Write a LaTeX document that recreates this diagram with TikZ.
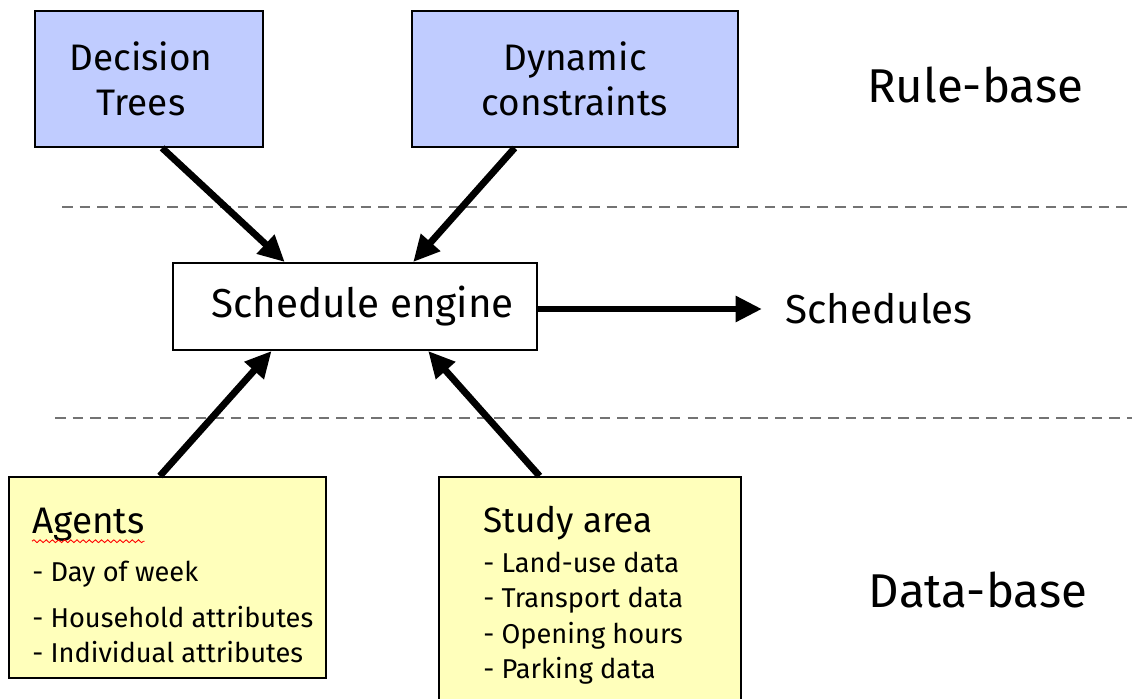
\documentclass[tikz,border=0pt]{standalone}
\usepackage{fontspec}
\setmainfont{Fira Sans}
\usepackage{tikz}
\usetikzlibrary{arrows.meta,positioning,calc,decorations.pathmorphing}
\definecolor{ruleBlue}{HTML}{C0CCFF}
\definecolor{dataYellow}{HTML}{FFFFBB}

\tikzset{
  rulebox/.style={draw,line width=1.1pt,fill=ruleBlue,inner sep=0pt,align=center,
    minimum height=2.72cm,font=\fontsize{21}{25.5}\selectfont},
  databox/.style={draw,line width=1.1pt,fill=dataYellow,inner sep=0pt},
  itemtxt/.style={anchor=base west,inner sep=0pt,font=\fontsize{15.5}{18}\selectfont},
  flow/.style={-{Triangle[length=15pt,width=14pt]},line width=3.9pt},
  layer/.style={black!55,line width=1.1pt,dash pattern=on 6pt off 4pt}
}

\begin{document}
\begin{tikzpicture}[x=0.02cm,y=-0.02cm]
\useasboundingbox (0,0) rectangle (1132,699);
% rule-base
\node[rulebox,minimum width=4.56cm] (dt) at (149,79) {Decision\hspace*{0.32cm}\\Trees\hspace*{0.32cm}};
\node[rulebox,minimum width=6.52cm] (dc) at (575,79) {Dynamic\\constraints};
\node[font=\fontsize{27}{30}\selectfont] (rb) at (975,85) {Rule-base};
\draw[layer] (62,207) -- (1132,207);
% engine
\node[draw,line width=1.1pt,fill=white,inner sep=0pt,minimum width=7.28cm,minimum height=1.74cm,
  font=\fontsize{23}{26}\selectfont] (se) at (355,306.5) {\hspace{0.3cm}Schedule engine};
\node[anchor=west,inner sep=0pt,font=\fontsize{23}{26}\selectfont] (sch) at (785,309) {Schedules};
\draw[flow] (se.east |- sch.west) -- ($(sch.west)+(-23,0)$);
\draw[layer] (55,418) -- (1132,418);
% data-base
\node[databox,minimum width=6.34cm,minimum height=4.02cm] (ag) at (167.5,577.5) {};
\node[databox,minimum width=6.04cm,minimum height=4.8cm] (sa) at (590,597) {};
\node[font=\fontsize{27}{30}\selectfont] (db) at (978,590) {Data-base};
\node[itemtxt,font=\fontsize{21}{24}\selectfont] (agt) at (32,533) {Agents};
\draw[red,line width=0.5pt,decorate,decoration={snake,amplitude=0.8pt,segment length=3.5pt}]
  (agt.south west) -- (agt.south east);
\node[itemtxt] (ag1) at (32,581) {- Day of week};
\node[itemtxt] (ag2) at (32,627) {- Household attributes};
\node[itemtxt] (ag3) at (32,662) {- Individual attributes};
\node[itemtxt,font=\fontsize{20}{24}\selectfont] (sat) at (483,532) {Study area};
\node[itemtxt] (sa1) at (483,572) {- Land-use data};
\node[itemtxt] (sa2) at (483,607) {- Transport data};
\node[itemtxt] (sa3) at (483,643) {- Opening hours};
\node[itemtxt] (sa4) at (483,678) {- Parking data};
% arrows into the engine
\draw[flow] ($(dt.south west)!0.557!(dt.south east)$) -- ($(se.north west)!0.308!(se.north east)$);
\draw[flow] ($(dc.south west)!0.316!(dc.south east)$) -- ($(se.north west)!0.659!(se.north east)$);
\draw[flow] ($(ag.north west)!0.476!(ag.north east)$) -- ($(se.south west)!0.272!(se.south east)$);
\draw[flow] ($(sa.north west)!0.334!(sa.north east)$) -- ($(se.south west)!0.70!(se.south east)$);
\end{tikzpicture}
\end{document}
